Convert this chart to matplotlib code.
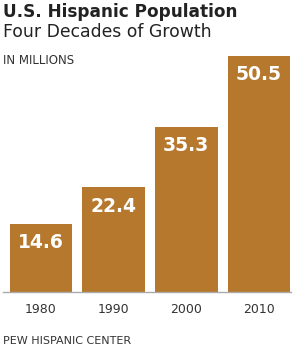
import matplotlib
matplotlib.use("Agg")
import matplotlib.pyplot as plt

years = ["1980", "1990", "2000", "2010"]
values = [14.6, 22.4, 35.3, 50.5]
labels = ["14.6", "22.4", "35.3", "50.5"]

W, H = 294, 350
fig = plt.figure(figsize=(W/100, H/100), dpi=100)
fig.patch.set_facecolor("white")

def fx(px): return px / W
def fy(py): return 1 - py / H

ax = fig.add_axes([fx(3), fy(292), fx(291) - fx(3), fy(49) - fy(292)])
x = list(range(len(years)))
ax.bar(x, values, width=0.86, color="#B5782C", zorder=2)
ax.set_xlim(-0.52, 3.44)
ax.set_ylim(0, 52)
for s in ["top", "right", "left"]:
    ax.spines[s].set_visible(False)
ax.spines["bottom"].set_color("#aaaaaa")
ax.spines["bottom"].set_linewidth(1)
ax.set_yticks([])
ax.set_xticks(x)
ax.set_xticklabels(years, fontsize=9, color="#333333")
ax.tick_params(axis="x", length=0, pad=8)
for xi, v, lab in zip(x, values, labels):
    ax.text(xi, v - 4, lab, ha="center", va="center", color="white",
            fontsize=13.5, fontweight="bold")

fig.text(fx(3), fy(12), "U.S. Hispanic Population", fontsize=12.2, fontweight="bold",
         color="#222222", va="center", ha="left")
fig.text(fx(3), fy(32), "Four Decades of Growth", fontsize=12.4,
         color="#222222", va="center", ha="left")
fig.text(fx(3), fy(60), "IN MILLIONS", fontsize=8.5, color="#333333", va="center", ha="left")
fig.text(fx(3), fy(341), "PEW HISPANIC CENTER", fontsize=8, color="#333333", va="center", ha="left")

fig.savefig("out.png", dpi=100, facecolor="white")
